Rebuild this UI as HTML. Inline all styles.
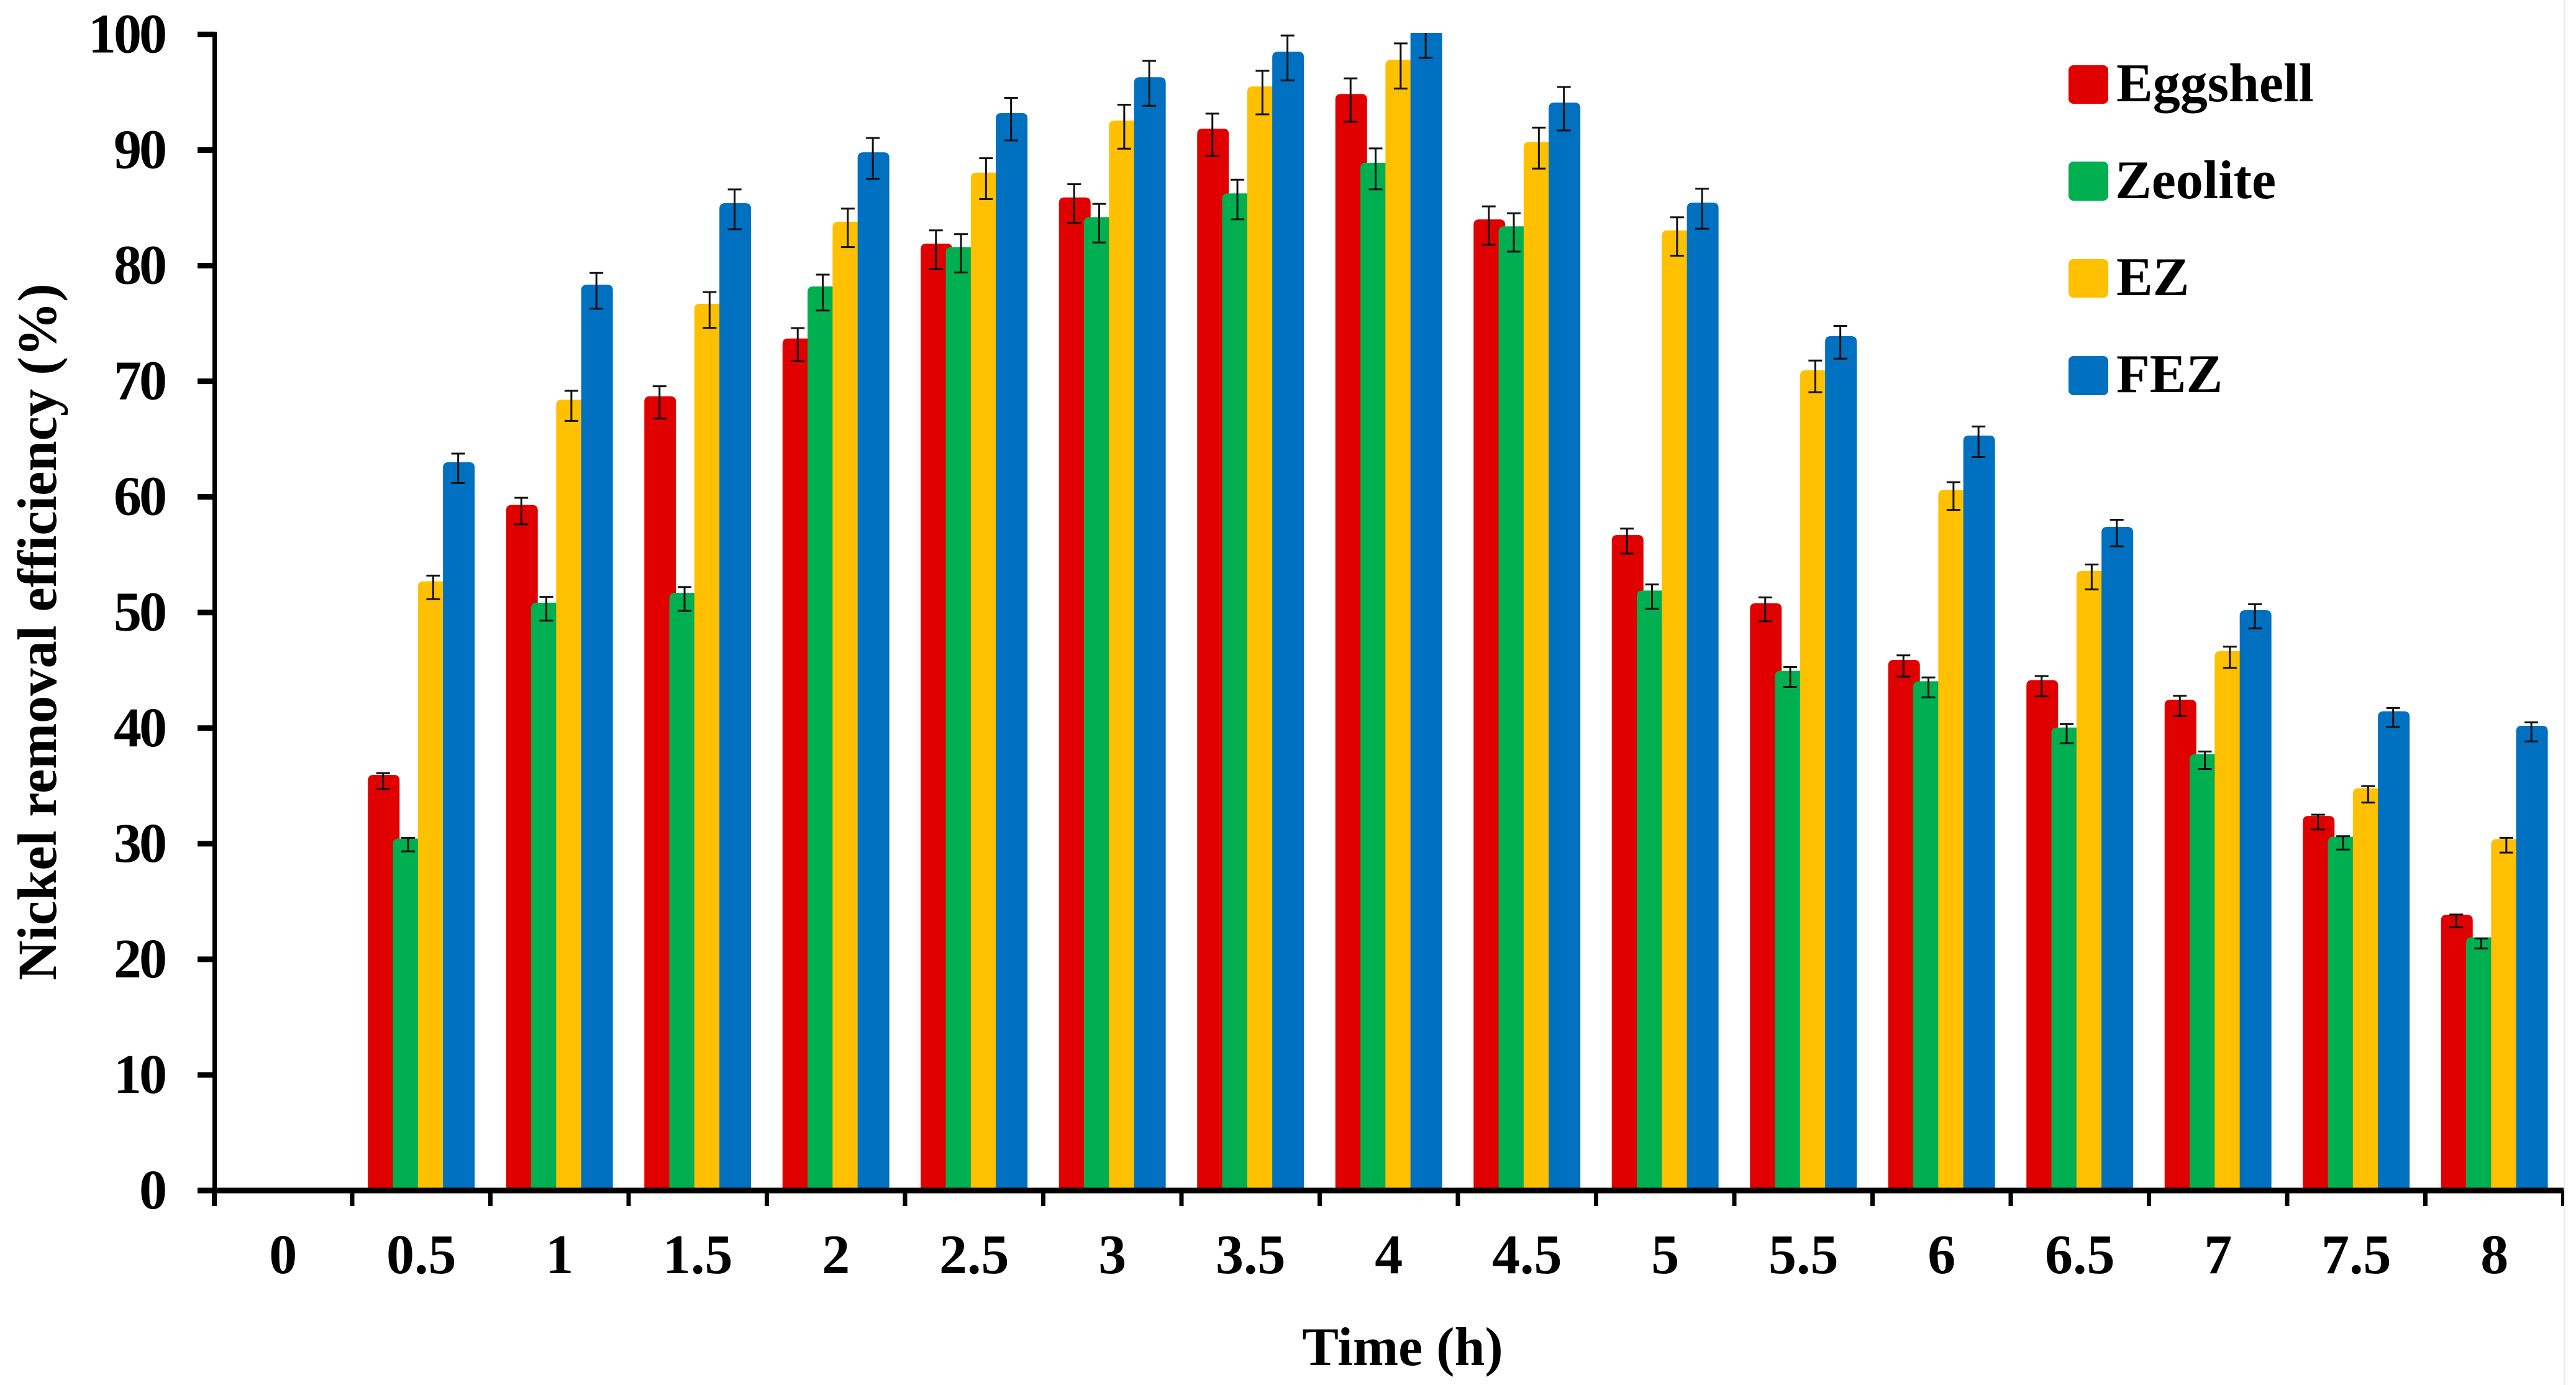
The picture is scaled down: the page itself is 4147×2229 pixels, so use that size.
<!DOCTYPE html>
<html lang="en">
<head>
<meta charset="utf-8">
<title>Nickel removal efficiency over time</title>
<style>
html,body{margin:0;padding:0;background:#fff;width:4147px;height:2229px;overflow:hidden}
svg{display:block}
text{font-family:"Liberation Serif","Times New Roman",serif;font-weight:bold;fill:#000}
</style>
</head>
<body>
<svg id="chart" xmlns="http://www.w3.org/2000/svg" width="4147" height="2229" viewBox="0 0 4147 2229">
  <defs><clipPath id="plot-clip"><rect x="300" y="53" width="3847" height="1900"/></clipPath></defs>
  <rect x="0" y="0" width="4147" height="2229" fill="#fff"/>
  <line x1="4128" y1="0" x2="4128" y2="2229" stroke="#ececf0" stroke-width="2"/>
  <g id="bars" clip-path="url(#plot-clip)"></g>
  <g id="errors" clip-path="url(#plot-clip)"></g>
  <g id="axes"></g>
  <text font-size="88.5" text-anchor="middle" transform="translate(90 1017) rotate(-90)">Nickel removal efficiency (%)</text>
  <text font-size="88" text-anchor="middle" x="2258" y="2197">Time (h)</text>
  <g>
    <g>
      <rect x="3330" y="105" width="64" height="62" rx="8" fill="#E00000"/>
      <text font-size="88" x="3407" y="163">Eggshell</text>
    </g>
    <g>
      <rect x="3330" y="260" width="64" height="63" rx="8" fill="#00B050"/>
      <text font-size="88" x="3405" y="319">Zeolite</text>
    </g>
    <g>
      <rect x="3330" y="417" width="64" height="62" rx="8" fill="#FFC000"/>
      <text font-size="88" x="3407" y="475">EZ</text>
    </g>
    <g>
      <rect x="3330" y="573" width="64" height="63" rx="8" fill="#0070C0"/>
      <text font-size="88" x="3407" y="631">FEZ</text>
    </g>
  </g>
</svg>
<script>
const categories = ["0","0.5","1","1.5","2","2.5","3","3.5","4","4.5","5","5.5","6","6.5","7","7.5","8"];
const yTickLabels = [0,10,20,30,40,50,60,70,80,90,100];
const seriesNames = ["eggshell","zeolite","ez","fez"];
const seriesColors = ["#E00000","#00B050","#FFC000","#0070C0"];

const eggshell = [null,35.95,59.3,68.7,73.7,81.9,85.9,91.85,94.85,84.0,56.7,50.8,45.9,44.15,42.45,32.4,23.85];
const zeolite  = [null,30.45,50.85,51.7,78.2,81.6,84.2,86.25,88.9,83.4,51.9,44.95,44.05,40.05,37.75,30.6,21.9];
const ez       = [null,52.7,68.4,76.7,83.8,88.05,92.55,95.5,97.8,90.7,83.05,70.95,60.6,53.6,46.65,34.8,30.4];
const fez      = [null,63.0,78.35,85.4,89.8,93.2,96.3,98.5,100.5,94.1,85.45,73.9,65.3,57.4,50.2,41.45,40.2];

const eggshellErr = [null,0.68,1.15,1.4,1.43,1.68,1.67,1.83,1.88,1.66,1.08,1.03,0.92,0.88,0.87,0.64,0.55];
const zeoliteErr  = [null,0.58,1.03,1.03,1.55,1.66,1.67,1.71,1.77,1.66,1.05,0.86,0.86,0.82,0.75,0.58,0.43];
const ezErr       = [null,1.02,1.3,1.55,1.66,1.77,1.9,1.88,1.95,1.77,1.66,1.37,1.2,1.08,0.92,0.71,0.64];
const fezErr      = [null,1.27,1.55,1.72,1.77,1.84,1.94,1.94,2.0,1.88,1.73,1.42,1.32,1.15,1.04,0.82,0.82];

const seriesValues = [eggshell, zeolite, ez, fez];
const seriesErrors = [eggshellErr, zeoliteErr, ezErr, fezErr];

const NS = "http://www.w3.org/2000/svg";
const xStart = 344.5, band = 222.5, yZero = 1916, yPerUnit = 18.606;
const barWidth = 51, barStep = 40.3, groupHalf = 86, radius = 9;
const errCenterDrop = 0.53;

function yScale(v) { return yZero - v * yPerUnit; }
function xEdge(i) { return xStart + i * band; }
function xCenter(i) { return xEdge(i) + band / 2; }
function make(parent, tag, attrs) {
  const el = document.createElementNS(NS, tag);
  for (const k in attrs) el.setAttribute(k, attrs[k]);
  parent.appendChild(el);
  return el;
}

const barsLayer = document.getElementById("bars");
const errLayer = document.getElementById("errors");
const axesLayer = document.getElementById("axes");

seriesValues.forEach(function (values, s) {
  values.forEach(function (v, i) {
    if (v === null) return;
    const x = xCenter(i) - groupHalf + s * barStep;
    const top = yScale(v);
    const d = "M" + x + " " + yZero + "V" + (top + radius) +
      "Q" + x + " " + top + " " + (x + radius) + " " + top +
      "H" + (x + barWidth - radius) +
      "Q" + (x + barWidth) + " " + top + " " + (x + barWidth) + " " + (top + radius) +
      "V" + yZero + "Z";
    const bar = make(barsLayer, "path", { d: d, fill: seriesColors[s] });
    
    
  });
});

seriesErrors.forEach(function (errs, s) {
  errs.forEach(function (e, i) {
    if (e === null) return;
    const v = seriesValues[s][i];
    const cx = xCenter(i) - groupHalf + s * barStep + barWidth / 2 - 1;
    const hi = yScale(v - errCenterDrop + e);
    const lo = yScale(v - errCenterDrop - e);
    const g = make(errLayer, "path", {
      d: "M" + cx + " " + hi + "V" + lo +
         "M" + (cx - 11) + " " + hi + "H" + (cx + 11) +
         "M" + (cx - 11) + " " + lo + "H" + (cx + 11),
      fill: "none", stroke: "#111", "stroke-width": 3
    });
    
    
  });
});

yTickLabels.forEach(function (t) {
  const y = yScale(t);
  const tick = make(axesLayer, "line", { x1: 318, x2: 346, y1: y, y2: y, stroke: "#000", "stroke-width": 9 });
  
  
  const label = make(axesLayer, "text", { x: 265, y: y + 29, "text-anchor": "end", "font-size": 90, "letter-spacing": -4 });
  label.textContent = t;
  
  
});

categories.forEach(function (c, i) {
  const tick = make(axesLayer, "line", { x1: xEdge(i), x2: xEdge(i), y1: yZero, y2: 1941, stroke: "#000", "stroke-width": 7 });
  
  
  const label = make(axesLayer, "text", { x: xCenter(i), y: 2049, "text-anchor": "middle", "font-size": 90 });
  label.textContent = c;
  
  
});
const lastTick = make(axesLayer, "line", { x1: 4125.5, x2: 4125.5, y1: yZero, y2: 1941, stroke: "#000", "stroke-width": 5 });



const yAxis = make(axesLayer, "line", { x1: 345.5, x2: 345.5, y1: yScale(100) - 4, y2: 1941, stroke: "#000", "stroke-width": 7 });


const xAxis = make(axesLayer, "line", { x1: 318, x2: 4127, y1: yZero, y2: yZero, stroke: "#000", "stroke-width": 9 });


</script>
</body>
</html>
